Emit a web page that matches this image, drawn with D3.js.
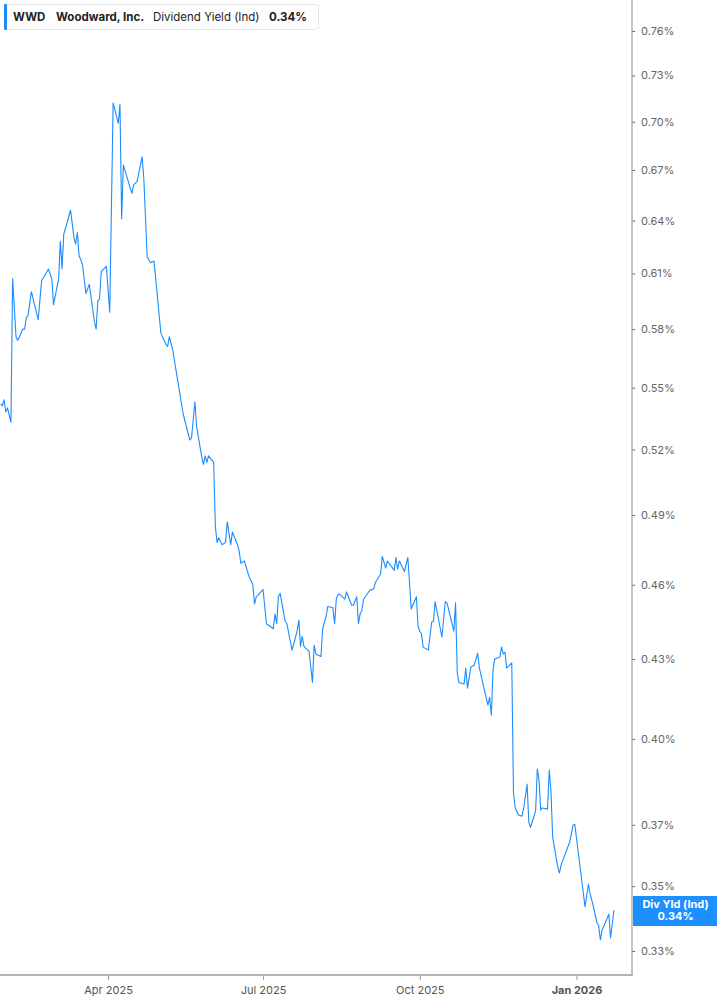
<!DOCTYPE html>
<html>
<head>
<meta charset="utf-8">
<script src="https://cdn.jsdelivr.net/npm/d3@7"></script>
<style>
  body { margin: 0; background: #fff; font-family: Inter, 'Noto Sans', sans-serif; }
  svg { display: block; }
</style>
</head>
<body>
<div id="chart-area"></div>
<script>
// Woodward, Inc. (WWD) - dividend yield (indicated), %
const dates = [
  '2025-01-28','2025-01-29','2025-01-30','2025-01-31','2025-02-01','2025-02-03','2025-02-04','2025-02-06','2025-02-07','2025-02-10',
  '2025-02-11','2025-02-12','2025-02-13','2025-02-15','2025-02-19','2025-02-21','2025-02-25','2025-02-27','2025-02-28','2025-03-03',
  '2025-03-04','2025-03-05','2025-03-06','2025-03-10','2025-03-12','2025-03-13','2025-03-14','2025-03-15','2025-03-17','2025-03-19',
  '2025-03-21','2025-03-24','2025-03-25','2025-03-26','2025-03-27','2025-03-28','2025-03-31','2025-04-02','2025-04-04','2025-04-07',
  '2025-04-08','2025-04-09','2025-04-10','2025-04-15','2025-04-16','2025-04-18','2025-04-21','2025-04-22','2025-04-24','2025-04-26',
  '2025-04-28','2025-05-02','2025-05-03','2025-05-05','2025-05-06','2025-05-07','2025-05-09','2025-05-12','2025-05-15','2025-05-19',
  '2025-05-20','2025-05-22','2025-05-23','2025-05-26','2025-05-27','2025-05-28','2025-05-29','2025-05-30','2025-06-02','2025-06-03',
  '2025-06-04','2025-06-05','2025-06-07','2025-06-09','2025-06-10','2025-06-12','2025-06-13','2025-06-16','2025-06-17','2025-06-18',
  '2025-06-20','2025-06-23','2025-06-25','2025-06-26','2025-06-27','2025-07-01','2025-07-03','2025-07-07','2025-07-08','2025-07-09',
  '2025-07-10','2025-07-11','2025-07-14','2025-07-15','2025-07-18','2025-07-21','2025-07-22','2025-07-23','2025-07-24','2025-07-25',
  '2025-07-28','2025-07-30','2025-07-31','2025-08-01','2025-08-04','2025-08-05','2025-08-07','2025-08-08','2025-08-11','2025-08-12',
  '2025-08-13','2025-08-14','2025-08-15','2025-08-18','2025-08-19','2025-08-22','2025-08-23','2025-08-25','2025-08-26','2025-08-27',
  '2025-08-28','2025-08-29','2025-09-02','2025-09-03','2025-09-04','2025-09-05','2025-09-08','2025-09-09','2025-09-11','2025-09-12',
  '2025-09-16','2025-09-17','2025-09-18','2025-09-19','2025-09-22','2025-09-24','2025-09-26','2025-09-29','2025-09-30','2025-10-01',
  '2025-10-02','2025-10-03','2025-10-06','2025-10-08','2025-10-09','2025-10-10','2025-10-14','2025-10-16','2025-10-17','2025-10-21',
  '2025-10-22','2025-10-23','2025-10-24','2025-10-27','2025-10-28','2025-10-29','2025-10-31','2025-11-02','2025-11-04','2025-11-05',
  '2025-11-10','2025-11-11','2025-11-12','2025-11-13','2025-11-14','2025-11-17','2025-11-18','2025-11-19','2025-11-20','2025-11-21',
  '2025-11-24','2025-11-25','2025-11-26','2025-11-28','2025-11-30','2025-12-01','2025-12-03','2025-12-04','2025-12-05','2025-12-08',
  '2025-12-09','2025-12-10','2025-12-11','2025-12-12','2025-12-15','2025-12-16','2025-12-17','2025-12-18','2025-12-21','2025-12-22',
  '2025-12-23','2025-12-28','2025-12-30','2025-12-31','2026-01-06','2026-01-08','2026-01-09','2026-01-11','2026-01-13','2026-01-14',
  '2026-01-15','2026-01-16','2026-01-20','2026-01-21','2026-01-23'
]

const yields = [
  0.542, 0.541, 0.544, 0.538, 0.540, 0.533, 0.607, 0.576, 0.574, 0.580,
  0.580, 0.586, 0.587, 0.600, 0.585, 0.606, 0.6125, 0.607, 0.593, 0.607,
  0.628, 0.6125, 0.632, 0.646, 0.630, 0.6265, 0.633, 0.620, 0.615, 0.599,
  0.604, 0.584, 0.580, 0.595, 0.596, 0.611, 0.614, 0.589, 0.712, 0.699,
  0.711, 0.641, 0.673, 0.656, 0.661, 0.663, 0.678, 0.665, 0.619, 0.616,
  0.617, 0.578, 0.576, 0.572, 0.571, 0.576, 0.569, 0.553, 0.5375, 0.5245,
  0.5254, 0.543, 0.531, 0.5165, 0.513, 0.517, 0.514, 0.517, 0.514, 0.485,
  0.478, 0.480, 0.477, 0.478, 0.487, 0.477, 0.4825, 0.477, 0.474, 0.469,
  0.470, 0.463, 0.460, 0.452, 0.455, 0.458, 0.444, 0.442, 0.448, 0.444,
  0.455, 0.4565, 0.445, 0.444, 0.4335, 0.441, 0.4455, 0.435, 0.439, 0.435,
  0.433, 0.421, 0.4355, 0.432, 0.431, 0.442, 0.447, 0.451, 0.4505, 0.444,
  0.454, 0.456, 0.456, 0.454, 0.457, 0.4515, 0.4515, 0.455, 0.444, 0.448,
  0.4495, 0.454, 0.458, 0.4578, 0.4585, 0.461, 0.4645, 0.472, 0.467, 0.470,
  0.466, 0.4715, 0.4665, 0.470, 0.4655, 0.4715, 0.450, 0.455, 0.443, 0.441,
  0.440, 0.4347, 0.4335, 0.4447, 0.445, 0.453, 0.4387, 0.453, 0.4525, 0.441,
  0.4525, 0.4246, 0.421, 0.4204, 0.4265, 0.4188, 0.4269, 0.4277, 0.4323, 0.4265,
  0.4124, 0.4154, 0.4087, 0.4258, 0.430, 0.4308, 0.4347, 0.432, 0.4327, 0.4265,
  0.4285, 0.3811, 0.3757, 0.3733, 0.3729, 0.3757, 0.3839, 0.3709, 0.3692, 0.3746,
  0.3892, 0.3853, 0.375, 0.3757, 0.3753, 0.3888, 0.3818, 0.3659, 0.3561, 0.3542,
  0.3568, 0.3643, 0.3699, 0.3702, 0.3435, 0.3506, 0.3475, 0.3435, 0.3385, 0.3378,
  0.3333, 0.3363, 0.3412, 0.3339, 0.3425
]

const yTicks = [0.33, 0.35, 0.37, 0.40, 0.43, 0.46, 0.49, 0.52, 0.55, 0.58, 0.61, 0.64, 0.67, 0.70, 0.73, 0.76]
const xTicks = ['2025-04-01', '2025-07-01', '2025-10-01', '2026-01-01']

const ticker = 'WWD'
const company = 'Woodward, Inc.'
const metric = 'Dividend Yield (Ind)'
const lastLabel = 'Div Yld (Ind)'

const W = 717, H = 1005
const plotRight = 632
const plotBottom = 975
const lineColor = '#1a8cff'

const parse = d3.timeParse('%Y-%m-%d')
const data = dates.map((d, i) => ({ date: parse(d), value: yields[i] }))
const last = data[data.length - 1]

const svg = d3.select('#chart-area')
              .append('svg')
              .attr('width', W)
              .attr('height', H)

// X Scale
const x = d3.scaleTime()
            .domain([new Date(2025, 0, 27, 14), new Date(2026, 1, 2, 14)])
            .range([0, plotRight])

// Y Scale (log)
const y = d3.scaleLog()
            .domain([0.33, 0.76])
            .range([951, 31])

// Y Axis on the right
const yAxisCall = d3.axisRight(y)
                    .tickValues(yTicks)
                    .tickSize(3)
                    .tickPadding(6)
                    .tickFormat(d => d3.format('.2f')(d) + '%')

const yAxisGroup = svg.append('g')
                      .attr('class', 'y-axis')
                      .attr('transform', 'translate(' + plotRight + ',0)')
                      .call(yAxisCall)

yAxisGroup.select('.domain').remove()
yAxisGroup.selectAll('line').attr('stroke', '#666')
yAxisGroup.selectAll('text')
          .attr('fill', '#666')
          .attr('font-size', '11px')
          .attr('font-family', 'Inter, sans-serif')

svg.append('line')
   .attr('x1', plotRight).attr('x2', plotRight)
   .attr('y1', 0).attr('y2', plotBottom)
   .attr('stroke', '#a0a0a0')
   .attr('stroke-width', 1.2)

// X Axis
const xAxisCall = d3.axisBottom(x)
                    .tickValues(xTicks.map(parse))
                    .tickSize(5)
                    .tickPadding(6)
                    .tickFormat(d3.timeFormat('%b %Y'))

const xAxisGroup = svg.append('g')
                      .attr('class', 'x-axis')
                      .attr('transform', 'translate(0,' + plotBottom + ')')
                      .call(xAxisCall)

xAxisGroup.select('.domain').remove()
xAxisGroup.selectAll('line').attr('stroke', '#999')
xAxisGroup.selectAll('text')
          .attr('fill', '#555')
          .attr('font-size', '11px')
          .attr('font-family', 'Inter, sans-serif')
          .attr('font-weight', d => d.getMonth() === 0 ? 'bold' : 'normal')

svg.append('line')
   .attr('x1', 0).attr('x2', plotRight + 1)
   .attr('y1', plotBottom).attr('y2', plotBottom)
   .attr('stroke', '#b3b3b3')
   .attr('stroke-width', 2)

// Line
const line = d3.line()
               .x(d => x(d.date))
               .y(d => y(d.value))

svg.append('path')
   .datum(data)
   .attr('fill', 'none')
   .attr('stroke', lineColor)
   .attr('stroke-width', 1.1)
   .attr('stroke-linejoin', 'round')
   .attr('d', line)

// Last value flag
const ly = y(last.value)
svg.append('rect')
   .attr('x', plotRight + 1)
   .attr('y', ly - 14)
   .attr('width', W - plotRight - 1)
   .attr('height', 30)
   .attr('fill', '#1e8fff')

svg.append('text')
   .attr('x', (plotRight + W) / 2 + 1)
   .attr('y', ly - 2)
   .attr('text-anchor', 'middle')
   .attr('fill', '#fff')
   .attr('font-size', '11px')
   .attr('font-weight', 'bold')
   .text(lastLabel)

svg.append('text')
   .attr('x', (plotRight + W) / 2 + 1)
   .attr('y', ly + 10)
   .attr('text-anchor', 'middle')
   .attr('fill', '#fff')
   .attr('font-size', '11px')
   .attr('font-weight', 'bold')
   .text(d3.format('.2f')(last.value) + '%')

// Legend box
const legend = svg.append('g').attr('class', 'legend')

legend.append('rect')
      .attr('x', 4.5).attr('y', 4.5)
      .attr('width', 314).attr('height', 25)
      .attr('rx', 3)
      .attr('fill', '#fff')
      .attr('stroke', '#e6e6e6')

legend.append('rect')
      .attr('x', 4).attr('y', 4)
      .attr('width', 3).attr('height', 26)
      .attr('rx', 1)
      .attr('fill', lineColor)

const legendItems = [
  { text: ticker, x: 13, weight: 'bold' },
  { text: company, x: 56, weight: 'bold' },
  { text: metric, x: 153, weight: 'normal' },
  { text: d3.format('.2f')(last.value) + '%', x: 269, weight: 'bold' }
]

legend.selectAll('text.item')
      .data(legendItems)
      .enter()
      .append('text')
      .attr('class', 'item')
      .attr('x', d => d.x)
      .attr('y', 21)
      .attr('fill', '#222')
      .attr('font-size', '11.5px')
      .attr('font-weight', d => d.weight)
      .text(d => d.text)
</script>
</body>
</html>
